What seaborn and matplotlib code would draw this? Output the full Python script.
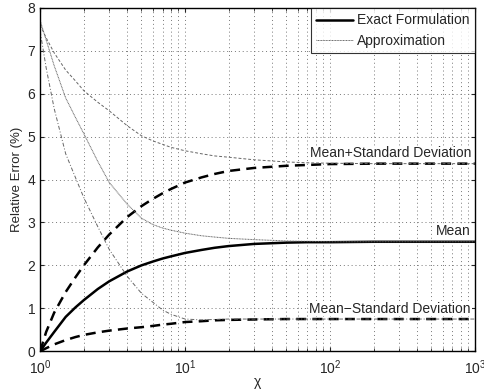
import numpy as np
import pandas as pd
import matplotlib
matplotlib.use("Agg")
import matplotlib.pyplot as plt
import seaborn as sns

# sample points along chi (log-spaced)
chi = [1, 1.1, 1.25, 1.5, 1.75, 2, 2.5, 3, 4, 5, 6, 7, 8, 10, 13, 16, 20, 30, 50, 70, 100, 200, 500, 1000]

# exact formulation
exact_mean = [0.0, 0.2, 0.45, 0.8, 1.02, 1.19, 1.45, 1.63, 1.86, 2.0, 2.09, 2.16, 2.21, 2.29, 2.36, 2.41, 2.45, 2.5, 2.53, 2.54, 2.54, 2.55, 2.55, 2.55]
exact_plus = [0.0, 0.45, 0.9, 1.38, 1.72, 2.0, 2.42, 2.72, 3.13, 3.38, 3.55, 3.68, 3.78, 3.93, 4.05, 4.13, 4.2, 4.27, 4.32, 4.34, 4.36, 4.37, 4.37, 4.37]
exact_minus = [0.0, 0.07, 0.16, 0.26, 0.33, 0.38, 0.44, 0.48, 0.53, 0.56, 0.59, 0.62, 0.64, 0.68, 0.7, 0.72, 0.73, 0.74, 0.75, 0.75, 0.75, 0.75, 0.75, 0.75]

# approximation
approx_mean = [7.7, 7.25, 6.65, 5.9, 5.45, 5.07, 4.42, 3.93, 3.42, 3.1, 2.95, 2.87, 2.82, 2.75, 2.69, 2.66, 2.63, 2.6, 2.57, 2.56, 2.55, 2.55, 2.55, 2.55]
approx_plus = [7.6, 7.3, 6.95, 6.55, 6.3, 6.07, 5.8, 5.6, 5.25, 5.02, 4.9, 4.82, 4.75, 4.67, 4.6, 4.55, 4.52, 4.46, 4.41, 4.39, 4.38, 4.37, 4.37, 4.37]
approx_minus = [7.45, 6.6, 5.65, 4.6, 4.05, 3.58, 2.9, 2.37, 1.74, 1.35, 1.14, 0.96, 0.86, 0.75, 0.73, 0.74, 0.75, 0.75, 0.75, 0.75, 0.75, 0.75, 0.75, 0.75]

xticks = [1, 10, 100, 1000]
xtick_labels = ["$10^0$", "$10^1$", "$10^2$", "$10^3$"]
yticks = [0, 1, 2, 3, 4, 5, 6, 7, 8]

sns.set_style("ticks")
plt.rcParams["font.family"] = ["Liberation Sans", "DejaVu Sans"]
plt.rcParams["mathtext.fontset"] = "custom"
plt.rcParams["mathtext.rm"] = "Liberation Sans"

fig = plt.figure(figsize=(4.84, 3.92), dpi=100)
ax = fig.add_axes([0.083, 0.104, 0.898, 0.876])

series = [
    (exact_mean, dict(color="black", lw=1.8, linestyle="-"), "Exact Formulation"),
    (exact_plus, dict(color="black", lw=1.8, linestyle=(0, (4, 2.5))), None),
    (exact_minus, dict(color="black", lw=1.8, linestyle=(0, (4, 2.5))), None),
    (approx_mean, dict(color="#666666", lw=0.7, linestyle=(0, (1, 0.6))), "Approximation"),
    (approx_plus, dict(color="#666666", lw=0.7, linestyle=(0, (3, 2))), None),
    (approx_minus, dict(color="#666666", lw=0.7, linestyle=(0, (4, 2, 1, 2))), None),
]
for vals, style, lab in series:
    sns.lineplot(x=chi, y=vals, ax=ax, label=lab, **style)

ax.set_xscale("log")
ax.set_xlim(1, 1000)
ax.set_ylim(0, 8)
ax.set_xticks(xticks)
ax.set_xticklabels(xtick_labels)
ax.set_yticks(yticks)
ax.grid(True, which="major", linestyle=(0, (1, 3)), color="#777777", lw=0.7)
ax.grid(True, which="minor", axis="x", linestyle=(0, (1, 3)), color="#777777", lw=0.7)
ax.tick_params(which="both", direction="in", top=True, right=True, labelsize=10, length=3)
ax.tick_params(axis="x", pad=5)
ax.tick_params(which="minor", length=2)
for s in ax.spines.values():
    s.set_linewidth(1.0)
    s.set_color("black")

ax.set_xlabel("χ", fontsize=10, labelpad=-1)
ax.set_ylabel("Relative Error (%)", fontsize=9.5, labelpad=3)

ax.text(940, 4.45, "Mean+Standard Deviation", ha="right", va="bottom", fontsize=10,
        bbox=dict(facecolor="white", edgecolor="none", pad=0.5))
ax.text(940, 2.63, "Mean", ha="right", va="bottom", fontsize=10,
        bbox=dict(facecolor="white", edgecolor="none", pad=0.5))
ax.text(940, 0.83, "Mean\u2212Standard Deviation", ha="right", va="bottom", fontsize=10,
        bbox=dict(facecolor="white", edgecolor="none", pad=0.5))

leg = ax.legend(loc="upper right", fontsize=10, frameon=True, fancybox=False,
                edgecolor="black", borderpad=0.4, handlelength=2.6, handletextpad=0.3,
                labelspacing=0.45, borderaxespad=0.0)
leg.get_frame().set_linewidth(0.8)

fig.savefig("out.png", dpi=100)
